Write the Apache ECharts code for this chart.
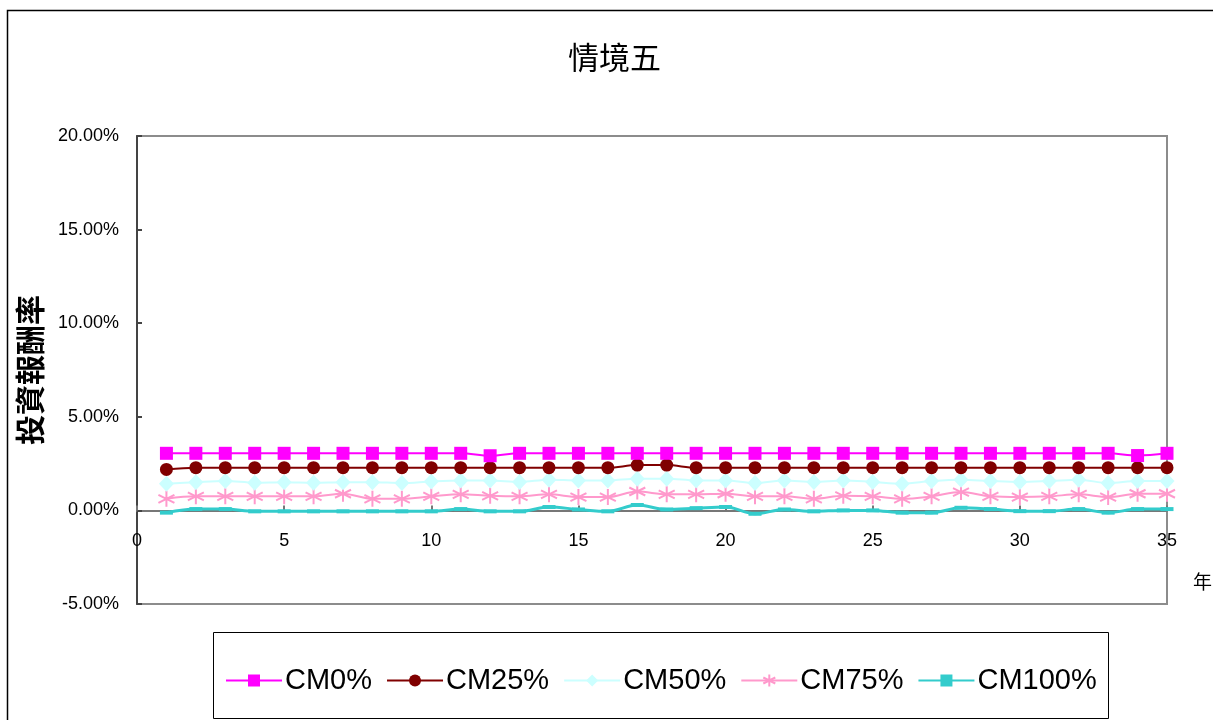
<!DOCTYPE html>
<html>
<head>
<meta charset="utf-8">
<script src="https://cdn.jsdelivr.net/npm/echarts@6/dist/echarts.min.js"></script>
<style>html,body{margin:0;padding:0;background:#fff}#c{width:1213px;height:720px}</style>
</head>
<body>
<div id="c"></div>
<script>
const titleText = '情境五';
const yAxisName = '投資報酬率';
const xAxisName = '年';
const seriesNames = ['CM0%', 'CM25%', 'CM50%', 'CM75%', 'CM100%'];
const years = [1,2,3,4,5,6,7,8,9,10,11,12,13,14,15,16,17,18,19,20,21,22,23,24,25,26,27,28,29,30,31,32,33,34,35];
const cm0 = [3.05,3.05,3.05,3.05,3.05,3.05,3.05,3.05,3.05,3.05,3.05,2.92,3.05,3.05,3.05,3.05,3.05,3.05,3.05,3.05,3.05,3.05,3.05,3.05,3.05,3.05,3.05,3.05,3.05,3.05,3.05,3.05,3.05,2.93,3.05];
const cm25 = [2.19,2.28,2.28,2.28,2.28,2.28,2.28,2.28,2.28,2.28,2.28,2.28,2.28,2.28,2.28,2.28,2.42,2.42,2.28,2.28,2.28,2.28,2.28,2.28,2.28,2.28,2.28,2.28,2.28,2.28,2.28,2.28,2.28,2.28,2.28];
const cm50 = [1.43,1.51,1.57,1.48,1.51,1.48,1.51,1.51,1.46,1.55,1.60,1.60,1.52,1.64,1.60,1.60,1.69,1.69,1.60,1.60,1.46,1.60,1.52,1.60,1.52,1.43,1.57,1.64,1.57,1.52,1.57,1.64,1.46,1.57,1.57];
const cm75 = [0.62,0.75,0.75,0.75,0.75,0.75,0.89,0.62,0.62,0.75,0.86,0.78,0.75,0.86,0.71,0.71,1.01,0.86,0.86,0.89,0.75,0.75,0.62,0.78,0.75,0.62,0.75,0.98,0.75,0.71,0.75,0.86,0.71,0.89,0.89];
const cm100 = [-0.12,0.07,0.07,-0.05,-0.05,-0.05,-0.05,-0.05,-0.05,-0.05,0.07,-0.05,-0.05,0.18,0.05,-0.05,0.29,0.05,0.12,0.18,-0.18,0.05,-0.05,0.0,0.0,-0.12,-0.12,0.14,0.07,-0.04,-0.04,0.07,-0.12,0.07,0.07];
const yTicks = {min: -5, max: 20, interval: 5};
const xTicks = {min: 0, max: 35, interval: 5};

const values = [cm0, cm25, cm50, cm75, cm100];
const colors = ['#FF00FF', '#800000', '#CCFFFF', '#FF99CC', '#33CCCC'];
const asterisk = 'path://M10,0L10,20M1.34,5L18.66,15M1.34,15L18.66,5';
const symbols = ['rect', 'circle', 'diamond', asterisk, 'rect'];
const symbolSizes = [13, 13, [15, 16], 16, [13, 4]];
const lineWidths = [2, 2, 2, 2, 3];

const font = '"Liberation Sans", Arial, sans-serif';
const cjk = '"Noto Sans CJK TC", "Noto Sans CJK SC", sans-serif';

const W = 1213, H = 720;
const grid = {left: 137, top: 136, right: 46, bottom: 116};
const plotH = H - grid.top - grid.bottom;
// place the x axis line at y = 0 of the value axis
const xAxisOffset = -plotH * (0 - yTicks.min) / (yTicks.max - yTicks.min);

const chart = echarts.init(document.getElementById('c'), null, {renderer: 'canvas'});
const series = seriesNames.map((name, i) => ({
  name: name,
  type: 'line',
  smooth: 0.35,
  data: years.map((x, j) => [x, values[i][j]]),
  symbol: symbols[i],
  symbolSize: symbolSizes[i],
  showAllSymbol: true,
  lineStyle: {color: colors[i], width: lineWidths[i]},
  itemStyle: i === 3 ? {color: colors[i], borderColor: colors[i], borderWidth: 2} : {color: colors[i], borderWidth: 0},
  z: 10 - i,
  animation: false
}));

chart.setOption({
  animation: false,
  backgroundColor: '#fff',
  title: {
    text: titleText, left: 563, top: 37,
    textStyle: {fontFamily: cjk, fontSize: 31, fontWeight: 'normal', color: '#000'}
  },
  grid: Object.assign({show: true, borderColor: '#8c8c8c', borderWidth: 2, backgroundColor: 'transparent'}, grid),
  legend: {
    left: 220, top: 661, itemWidth: 56, itemHeight: 15, itemGap: 14,
    textStyle: {fontFamily: font, fontSize: 29, color: '#000', padding: [0, 0, 0, -2]},
    data: seriesNames
  },
  xAxis: {
    type: 'value', min: xTicks.min, max: xTicks.max, interval: xTicks.interval,
    offset: xAxisOffset,
    axisLine: {show: true, onZero: false, lineStyle: {color: '#777', width: 2}},
    axisTick: {show: true, inside: true, length: 5, lineStyle: {color: '#777', width: 2}},
    axisLabel: {fontFamily: font, fontSize: 18, color: '#000', margin: 22},
    splitLine: {show: false}
  },
  yAxis: {
    type: 'value', min: yTicks.min, max: yTicks.max, interval: yTicks.interval,
    name: yAxisName, nameLocation: 'middle', nameRotate: 90, nameGap: 92,
    nameTextStyle: {fontFamily: cjk, fontSize: 30, fontWeight: 'bold', color: '#000'},
    axisLine: {show: true, lineStyle: {color: '#444', width: 2}},
    axisTick: {show: true, inside: true, length: 5, lineStyle: {color: '#444', width: 2}},
    axisLabel: {fontFamily: font, fontSize: 18, color: '#000', margin: 18, formatter: v => v.toFixed(2) + '%'},
    splitLine: {show: false}
  },
  graphic: [
    {type: 'rect', shape: {x: 7.5, y: 10.5, width: 1230, height: 730}, style: {fill: 'none', stroke: '#000', lineWidth: 1.5}, silent: true, z: 0},
    {type: 'rect', shape: {x: 213.5, y: 632.5, width: 895, height: 86}, style: {fill: 'none', stroke: '#000', lineWidth: 1}, silent: true, z: 0},
    {type: 'text', left: 1193, top: 572, style: {text: xAxisName, font: '19px ' + cjk, fill: '#000'}, silent: true}
  ],
  series: series
});
</script>
</body>
</html>
